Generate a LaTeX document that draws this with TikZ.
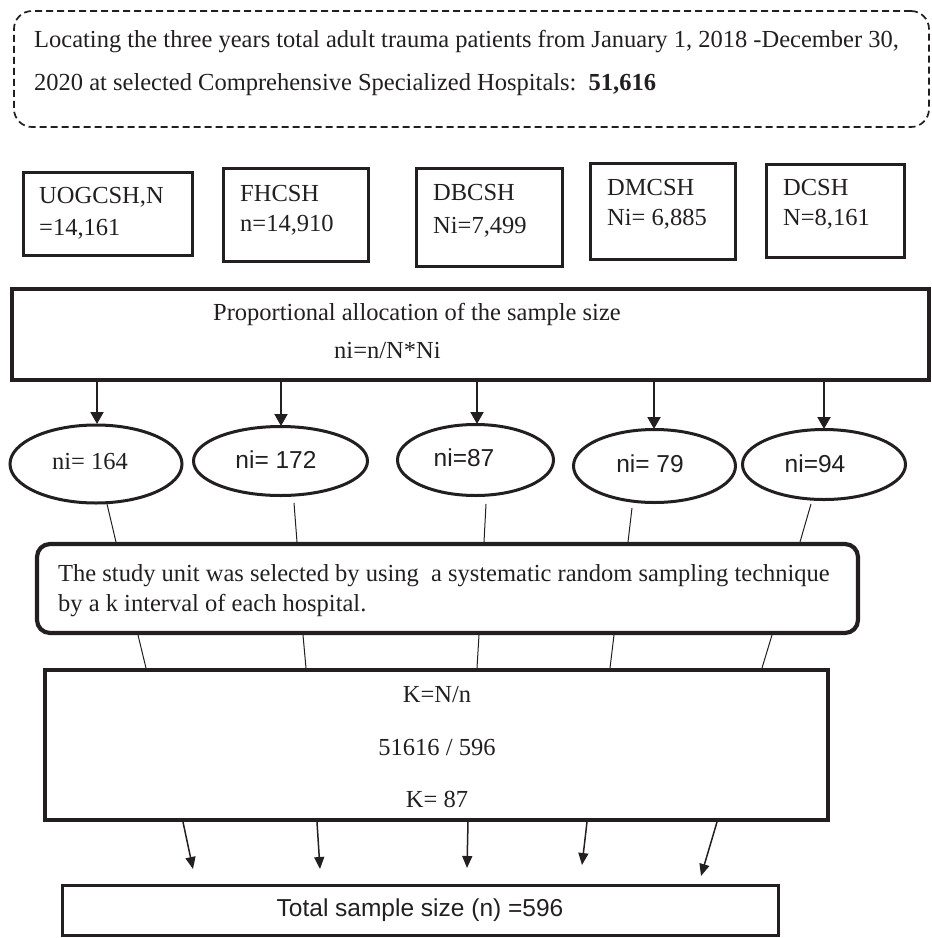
\documentclass[tikz,border=0pt]{standalone}
\usepackage{fontspec}
\setmainfont{Liberation Serif}
\newfontfamily\arialf{Liberation Sans}
\usetikzlibrary{shapes.geometric,arrows.meta}
\definecolor{ink}{RGB}{35,31,32}
\tikzset{
  box/.style={draw=ink, rectangle, inner sep=0pt},
  hbox/.style={box, line width=3.3pt},
  bigbox/.style={box, line width=4.2pt},
  ell/.style={draw=ink, ellipse, line width=3pt, inner sep=0pt},
  txt/.style={inner sep=0pt, text=ink, font=\fontsize{24.5}{28}\selectfont},
  stxt/.style={txt, font=\arialf\fontsize{24.5}{28}\selectfont},
  ttxt/.style={inner sep=0pt, text=ink, font=\fontsize{24.5}{28}\selectfont},
  link/.style={draw=ink, line width=1pt},
  arrA/.style={draw=ink, line width=2pt, -{Triangle[width=13pt,length=12pt]}},
  arrB/.style={draw=ink, line width=1.5pt, -{Triangle[width=10pt,length=12pt]}},
}
\begin{document}
\begin{tikzpicture}[x=1pt,y=-1pt]
\useasboundingbox (0,0) rectangle (932,938);
% top dashed box
\node[draw=ink, line width=1.7pt, dash pattern=on 7pt off 4pt, rounded corners=18pt,
      minimum width=915pt, minimum height=116pt] (top) at (471.5,69) {};
\node[ttxt, anchor=base west] (t1) at (34,47) {Locating the three years total adult trauma patients from January 1, 2018 -December 30,};
\node[ttxt, anchor=base west] (t2) at (34,90) {2020 at selected Comprehensive Specialized Hospitals:\ \ \textbf{51,616}};
% hospital boxes
\node[hbox, minimum width=169pt, minimum height=83pt] (h1) at (108,214) {};
\node[hbox, minimum width=145pt, minimum height=93pt] (h2) at (296,215) {};
\node[hbox, minimum width=146pt, minimum height=98pt] (h3) at (489.5,217.5) {};
\node[hbox, minimum width=145pt, minimum height=96pt] (h4) at (663,211.5) {};
\node[hbox, minimum width=138pt, minimum height=93pt] (h5) at (835.5,211) {};
\node[txt, anchor=base west] (h1a) at (39,203) {UOGCSH,N};
\node[txt, anchor=base west] (h1b) at (39,235) {=14,161};
\node[txt, anchor=base west] (h2a) at (240,201) {FHCSH};
\node[txt, anchor=base west] (h2b) at (240,231) {n=14,910};
\node[txt, anchor=base west] (h3a) at (433,200) {DBCSH};
\node[txt, anchor=base west] (h3b) at (433,233) {Ni=7,499};
\node[txt, anchor=base west] (h4a) at (607,195) {DMCSH};
\node[txt, anchor=base west] (h4b) at (607,225) {Ni= 6,885};
\node[txt, anchor=base west] (h5a) at (783,195) {DCSH};
\node[txt, anchor=base west] (h5b) at (783,225) {N=8,161};
% proportional allocation box
\node[bigbox, line width=4.6pt, minimum width=917pt, minimum height=91pt] (prop) at (470.5,334.5) {};
\node[txt, anchor=base west] (p1) at (213,320) {Proportional allocation of the sample size};
\node[txt, anchor=base west] (p2) at (334,358) {ni=n/N*Ni};
% ellipses
\node[ell, minimum width=172pt, minimum height=78pt] (e1) at (96,464) {};
\node[ell, minimum width=174pt, minimum height=69pt] (e2) at (280.5,461) {};
\node[ell, minimum width=156pt, minimum height=71pt] (e3) at (475.5,460) {};
\node[ell, minimum width=162pt, minimum height=73pt] (e4) at (654.5,466) {};
\node[ell, minimum width=163pt, minimum height=70pt] (e5) at (824,464.5) {};
\node[txt, anchor=base] (n1) at (90,469) {ni= 164};
\node[stxt, anchor=base] (n2) at (276,468) {ni= 172};
\node[stxt, anchor=base] (n3) at (464,466) {ni=87};
\node[stxt, anchor=base] (n4) at (650,472) {ni= 79};
\node[stxt, anchor=base] (n5) at (815,472) {ni=94};
% arrows prop -> ellipses
\coordinate (pa1) at (97,382); \coordinate (pa2) at (281,382); \coordinate (pa3) at (477,382);
\coordinate (pa4) at (654,382); \coordinate (pa5) at (824,382);
\coordinate (ea1) at (97,424); \coordinate (ea2) at (281,426); \coordinate (ea3) at (477,424);
\coordinate (ea4) at (654,429); \coordinate (ea5) at (824,429);
\foreach \i in {1,...,5}{\draw[arrA] (pa\i) -- (ea\i);}
% study unit box
\node[bigbox, rounded corners=13pt, minimum width=821pt, minimum height=89pt] (study) at (447.5,588.5) {};
\node[txt, anchor=base west] (s1) at (58,581) {The study unit was selected by using\ \ a systematic random sampling technique};
\node[txt, anchor=base west] (s2) at (58,611) {by a k interval of each hospital.};
% links ellipses -> study
\coordinate (eb1) at (107,504); \coordinate (eb2) at (294,503); \coordinate (eb3) at (486,504);
\coordinate (eb4) at (632,508); \coordinate (eb5) at (811,504);
\coordinate (st1) at (116,542); \coordinate (st2) at (297,542); \coordinate (st3) at (484,542);
\coordinate (st4) at (628,542); \coordinate (st5) at (800,542);
\foreach \i in {1,...,5}{\draw[link] (eb\i) -- (st\i);}
% K box
\node[bigbox, minimum width=783pt, minimum height=150pt] (kbox) at (436.5,745) {};
\node[txt, anchor=base] (k1) at (437,702) {K=N/n};
\node[txt, anchor=base] (k2) at (437,755) {51616 / 596};
\node[txt, anchor=base] (k3) at (437,807) {K= 87};
% links study -> K box
\coordinate (sb1) at (138,635); \coordinate (sb2) at (303,635); \coordinate (sb3) at (479,635);
\coordinate (sb4) at (614,635); \coordinate (sb5) at (772,635);
\coordinate (kt1) at (146,668); \coordinate (kt2) at (306,668); \coordinate (kt3) at (477,668);
\coordinate (kt4) at (610,668); \coordinate (kt5) at (762,668);
\foreach \i in {1,...,5}{\draw[link] (sb\i) -- (kt\i);}
% bottom box
\node[box, line width=3.2pt, minimum width=716pt, minimum height=50pt] (total) at (420.5,910.5) {};
\node[stxt, anchor=base] (tt) at (420,916) {Total sample size (n) =596};
% arrows K box -> total
\coordinate (kb1) at (183,822); \coordinate (kb2) at (317,822); \coordinate (kb3) at (468,822);
\coordinate (kb4) at (587,822); \coordinate (kb5) at (717,822);
\coordinate (ta1) at (193,869); \coordinate (ta2) at (320,869); \coordinate (ta3) at (467,868);
\coordinate (ta4) at (582,865); \coordinate (ta5) at (701,876);
\foreach \i in {1,...,5}{\draw[arrB] (kb\i) -- (ta\i);}
\end{tikzpicture}
\end{document}
